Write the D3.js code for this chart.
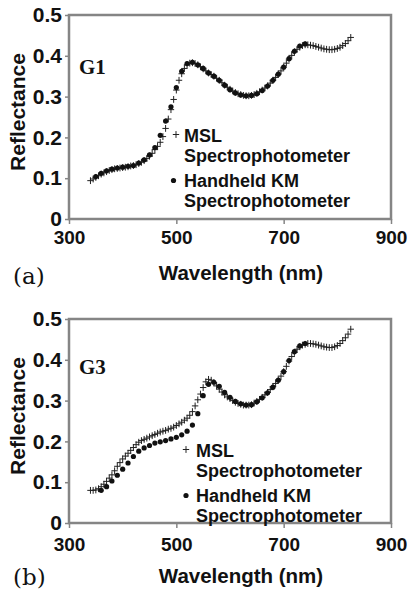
<!DOCTYPE html>
<html>
<head>
<meta charset="utf-8">
<script src="https://cdn.jsdelivr.net/npm/d3@7"></script>
<style>
  body { margin: 0; background: #fff; }
  svg { display: block; }
</style>
</head>
<body>
<svg id="chart" width="417" height="599"></svg>
<script>
// MSL spectrophotometer wavelengths (nm), 5 nm steps
const mslWavelengths = [
  340, 345, 350, 355, 360, 365, 370, 375, 380, 385,
  390, 395, 400, 405, 410, 415, 420, 425, 430, 435,
  440, 445, 450, 455, 460, 465, 470, 475, 480, 485,
  490, 495, 500, 505, 510, 515, 520, 525, 530, 535,
  540, 545, 550, 555, 560, 565, 570, 575, 580, 585,
  590, 595, 600, 605, 610, 615, 620, 625, 630, 635,
  640, 645, 650, 655, 660, 665, 670, 675, 680, 685,
  690, 695, 700, 705, 710, 715, 720, 725, 730, 735,
  740, 745, 750, 755, 760, 765, 770, 775, 780, 785,
  790, 795, 800, 805, 810, 815, 820, 825
];

const g1Msl = [
  .094, .098, .102, .106, .110, .113, .116, .119, .121, .123,
  .124, .125, .126, .127, .128, .130, .131, .133, .136, .139,
  .143, .148, .154, .161, .170, .178, .188, .202, .222, .245,
  .268, .293, .316, .340, .356, .369, .378, .382, .383, .381,
  .378, .373, .368, .363, .358, .354, .350, .345, .340, .334,
  .328, .323, .318, .314, .310, .307, .305, .303, .302, .302,
  .303, .305, .308, .312, .316, .321, .326, .333, .340, .347,
  .355, .363, .372, .382, .392, .401, .410, .416, .421, .425,
  .427, .427, .426, .425, .423, .421, .419, .417, .416, .415,
  .415, .416, .418, .421, .425, .430, .437, .445
];

const g1HandheldWavelengths = [
  350, 360, 370, 380, 390, 400, 410, 420, 430, 440,
  450, 460, 470, 480, 490, 500, 510, 520, 530, 540,
  550, 560, 570, 580, 590, 600, 610, 620, 630, 640,
  650, 660, 670, 680, 690, 700, 710, 720, 730, 740
];

const g1Handheld = [
  .104, .112, .118, .122, .125, .127, .129, .131, .137, .145,
  .157, .175, .205, .240, .275, .322, .362, .381, .384, .378,
  .369, .358, .350, .340, .328, .317, .309, .304, .302, .303,
  .307, .315, .326, .340, .355, .372, .393, .411, .424, .429
];

const g3Msl = [
  .080, .080, .081, .084, .089, .095, .102, .110, .118, .128,
  .139, .148, .157, .164, .171, .178, .185, .192, .198, .202,
  .205, .208, .211, .214, .217, .220, .223, .225, .227, .230,
  .232, .235, .239, .243, .247, .252, .257, .264, .273, .287,
  .302, .316, .332, .346, .352, .350, .344, .336, .328, .321,
  .314, .309, .305, .300, .296, .293, .291, .289, .289, .289,
  .290, .294, .298, .303, .308, .314, .320, .327, .334, .342,
  .351, .360, .371, .384, .397, .408, .418, .426, .432, .436,
  .438, .440, .440, .439, .438, .436, .434, .432, .431, .430,
  .430, .432, .435, .440, .447, .454, .463, .475
];

const g3HandheldWavelengths = [
  360, 370, 380, 390, 400, 410, 420, 430, 440, 450,
  460, 470, 480, 490, 500, 510, 520, 530, 540, 550,
  560, 570, 580, 590, 600, 610, 620, 630, 640, 650,
  660, 670, 680, 690, 700, 710, 720, 730, 740
];

const g3Handheld = [
  .080, .089, .103, .117, .132, .147, .163, .176, .184, .190,
  .196, .199, .202, .206, .210, .216, .225, .240, .268, .312,
  .340, .345, .335, .320, .308, .298, .292, .289, .290, .297,
  .307, .319, .333, .350, .371, .398, .420, .434, .440
];

const xTicks = [300, 500, 700, 900];
const yTicks = [0, 0.1, 0.2, 0.3, 0.4, 0.5];
const legendLabels = ["MSL", "Spectrophotometer", "Handheld KM", "Spectrophotometer"];

const svg = d3.select("#chart");
const sans = "'Liberation Sans', Arial, sans-serif";
const serif = "'Liberation Serif', 'Times New Roman', serif";
const ink = "#111";
const frameGrey = "#858585";

const panels = [
  {
    top: 15, bottom: 219, tag: "G1", letter: "(a)",
    msl: g1Msl, hhX: g1HandheldWavelengths, hh: g1Handheld,
    xLabelGap: 38, titleY: 280, letterY: 284, tagY: 74,
    legend: { x: 184, y: 141.5, markX: 176, dotX: 173.5 }
  },
  {
    top: 319, bottom: 523, tag: "G3", letter: "(b)",
    msl: g3Msl, hhX: g3HandheldWavelengths, hh: g3Handheld,
    xLabelGap: 41, titleY: 583, letterY: 585, tagY: 374,
    legend: { x: 196, y: 456.5, markX: 186, dotX: 186 }
  }
];

const left = 69, right = 391;
const crossPath = "M-3.2,0H3.2M0,-3.4V3.4";

panels.forEach(p => {
  const x = d3.scaleLinear().domain([300, 900]).range([left, right]);
  const y = d3.scaleLinear().domain([0, 0.5]).range([p.bottom, p.top]);
  const g = svg.append("g");

  // frame
  g.append("rect")
    .attr("x", left).attr("y", p.top)
    .attr("width", right - left).attr("height", p.bottom - p.top)
    .attr("fill", "none")
    .attr("stroke", frameGrey)
    .attr("stroke-width", 2.5);

  // y axis
  const yAxis = g.append("g")
    .attr("transform", `translate(${left},0)`)
    .call(d3.axisLeft(y).tickValues(yTicks).tickSize(4).tickPadding(3)
      .tickFormat(d => d === 0 ? "0" : d3.format(".1f")(d)));
  yAxis.select(".domain").remove();
  yAxis.selectAll("line").attr("stroke", frameGrey).attr("stroke-width", 1.5);
  yAxis.selectAll("text")
    .attr("fill", ink)
    .style("font-family", sans)
    .style("font-weight", "bold")
    .style("font-size", "21px");

  // x axis
  const xAxis = g.append("g")
    .attr("transform", `translate(0,${p.bottom})`)
    .call(d3.axisBottom(x).tickValues(xTicks).tickSize(5).tickPadding(p.xLabelGap - 18));
  xAxis.select(".domain").remove();
  xAxis.selectAll("line").attr("stroke", frameGrey).attr("stroke-width", 1.5);
  xAxis.selectAll("text")
    .attr("fill", ink)
    .attr("dy", 0)
    .style("font-family", sans)
    .style("font-weight", "bold")
    .style("font-size", "19px");

  // axis titles
  g.append("text")
    .attr("transform", `translate(25,${(p.top + p.bottom) / 2 - 5}) rotate(-90)`)
    .attr("text-anchor", "middle")
    .attr("fill", ink)
    .style("font-family", sans)
    .style("font-weight", "bold")
    .style("font-size", "21px")
    .text("Reflectance");

  g.append("text")
    .attr("x", 241).attr("y", p.titleY)
    .attr("text-anchor", "middle")
    .attr("fill", ink)
    .style("font-family", sans)
    .style("font-weight", "bold")
    .style("font-size", "20.5px")
    .text("Wavelength (nm)");

  g.append("text")
    .attr("x", 13).attr("y", p.letterY)
    .attr("fill", ink)
    .style("font-family", "'DejaVu Serif', serif")
    .style("font-size", "23px")
    .text(p.letter);

  g.append("text")
    .attr("x", 79).attr("y", p.tagY)
    .attr("fill", ink)
    .style("font-family", serif)
    .style("font-weight", "bold")
    .style("font-size", "21px")
    .text(p.tag);

  // MSL crosses
  g.append("g").selectAll("path")
    .data(mslWavelengths.map((w, i) => [w, p.msl[i]]))
    .join("path")
    .attr("transform", d => `translate(${x(d[0])},${y(d[1])})`)
    .attr("d", crossPath)
    .attr("stroke", "#222")
    .attr("stroke-width", 1)
    .attr("fill", "none");

  // handheld dots
  g.append("g").selectAll("circle")
    .data(p.hhX.map((w, i) => [w, p.hh[i]]))
    .join("circle")
    .attr("cx", d => x(d[0]))
    .attr("cy", d => y(d[1]))
    .attr("r", 2.6)
    .attr("fill", ink);

  // legend
  const lg = g.append("g");
  const lineH = [0, 20, 45, 65.5];
  legendLabels.forEach((t, i) => {
    lg.append("text")
      .attr("x", p.legend.x).attr("y", p.legend.y + lineH[i])
      .attr("fill", ink)
      .style("font-family", sans)
      .style("font-weight", "bold")
      .style("font-size", "18px")
      .text(t);
  });
  lg.append("path")
    .attr("transform", `translate(${p.legend.markX},${p.legend.y - 7})`)
    .attr("d", crossPath)
    .attr("stroke", "#222")
    .attr("stroke-width", 1);
  lg.append("circle")
    .attr("cx", p.legend.dotX).attr("cy", p.legend.y + lineH[2] - 6)
    .attr("r", 2.6)
    .attr("fill", ink);
});
</script>
</body>
</html>
